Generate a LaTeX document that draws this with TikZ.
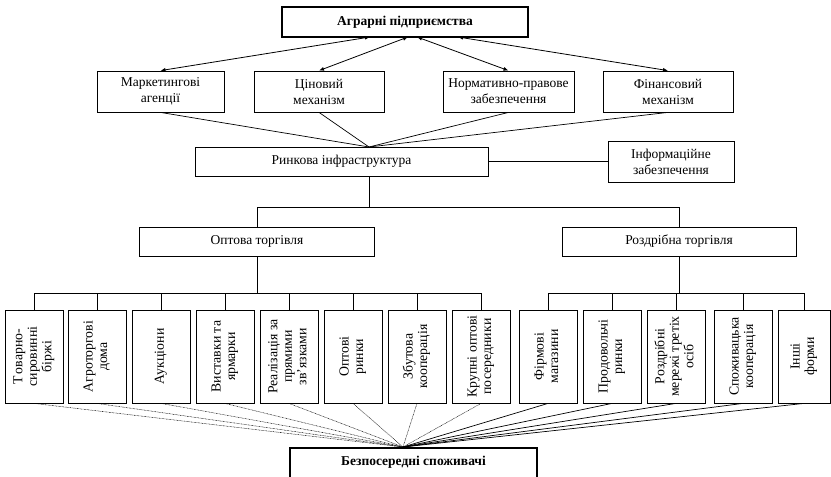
\documentclass[tikz,border=0pt]{standalone}
\usepackage{fontspec}
\setmainfont{Liberation Serif}
\usetikzlibrary{arrows.meta}
\newcommand\vtext[1]{\rotatebox{90}{\begin{tabular}{@{}c@{}}#1\end{tabular}}}
\begin{document}
\begin{tikzpicture}[x=1pt,y=-1pt,
 box/.style={draw, line width=0.8pt, inner sep=2pt, align=center, font=\fontsize{13.5}{16}\selectfont},
 bbox/.style={draw, line width=1.6pt, inner sep=2pt, align=center, font=\fontsize{13.5}{16}\selectfont\bfseries},
 vbox/.style={draw, line width=0.8pt, inner sep=0pt, minimum width=58pt, minimum height=93pt, font=\fontsize{13.8}{14.5}\selectfont},
 conn/.style={line width=0.7pt},
 dots/.style={line width=0.5pt, dash pattern=on 0.7pt off 0.7pt},
 arr/.style={line width=0.8pt, {Latex[length=5pt,width=4pt]}-{Latex[length=5pt,width=4pt]}}
]
\useasboundingbox (0,0) rectangle (831,477);
\clip (0,0) rectangle (831,477);

% top
\node[bbox, minimum width=246pt, minimum height=30pt] (agr) at (405,22) {Аграрні підприємства};
\coordinate (a1) at (370,37);
\coordinate (a2) at (408,37);
\coordinate (a3) at (417,37);
\coordinate (a4) at (458,37);

% row 2
\node[box, minimum width=127pt, minimum height=41pt] (mar) at (160.5,91.5) {Маркетингові\\агенції};
\node[box, minimum width=130pt, minimum height=41pt] (cin) at (319,91.5) {Ціновий\\механізм};
\node[box, minimum width=131pt, minimum height=41pt] (nor) at (508.5,91.5) {Нормативно-правове\\забезпечення};
\node[box, minimum width=130pt, minimum height=41pt] (fin) at (668,91.5) {Фінансовий\\механізм};

\draw[arr] (a1) -- (mar.north);
\draw[arr] (a2) -- (cin.north);
\draw[arr] (a3) -- (nor.north);
\draw[arr] (a4) -- (fin.north);

% market infrastructure
\node[box, minimum width=293pt, minimum height=29pt] (rin) at (341.5,161.5) {Ринкова інфраструктура};
\node[box, minimum width=126pt, minimum height=41pt] (inf) at (671,161.5) {Інформаційне\\забезпечення};
\coordinate (rt) at (369,147);
\coordinate (rb) at (369,176);
\coordinate (hub) at (369,208);
\foreach \n in {mar,cin,nor,fin} \draw[conn] (\n.south) -- (rt);
\draw[conn] (rin.east) -- (inf.west);

% wholesale / retail
\node[box, minimum width=235pt, minimum height=29pt] (opt) at (257,241.5) {Оптова торгівля};
\node[box, minimum width=234pt, minimum height=29pt] (roz) at (679,241.5) {Роздрібна торгівля};
\draw[conn] (rb) -- (hub);
\draw[conn] (opt.north) -- ++(0,-19) -| (roz.north);

% children
\node[vbox] (w1) at (34,356.5)  {\vtext{Т\kern1.5pt оварно-\\сировинні\\біржі}};
\node[vbox] (w2) at (97,356.5)  {\vtext{Агроторгові\\дома}};
\node[vbox] (w3) at (161,356.5) {\vtext{Аукціони}};
\node[vbox] (w4) at (225,356.5) {\vtext{Виставки та\\ярмарки}};
\node[vbox] (w5) at (289,356.5) {\vtext{Реалізація за\\прямими\\зв'язками}};
\node[vbox] (w6) at (353,356.5) {\vtext{Оптові\\ринки}};
\node[vbox] (w7) at (417,356.5) {\vtext{Збутова\\кооперація}};
\node[vbox] (w8) at (481,356.5) {\vtext{Крупні оптові\\посередники}};
\node[vbox] (r1) at (548,356.5) {\vtext{Фірмові\\магазини}};
\node[vbox] (r2) at (612,356.5) {\vtext{Продовольчі\\ринки}};
\node[vbox] (r3) at (676,356.5) {\vtext{Роздрібні\\мережі третіх\\осіб}};
\node[vbox] (r4) at (743,356.5) {\vtext{Споживацька\\кооперація}};
\node[vbox, minimum width=52pt] (r5) at (804,356.5) {\vtext{Інші\\форми}};

\draw[conn] (opt.south) -- ++(0,38);
\draw[conn] (roz.south) -- ++(0,38);
\draw[conn] (w1.north) -- ++(0,-16) -| (w8.north);
\foreach \n in {w2,w3,w4,w5,w6,w7} \draw[conn] (\n.north) -- ++(0,-16);
\draw[conn] (r1.north) -- ++(0,-16) -| (r5.north);
\foreach \n in {r2,r3,r4} \draw[conn] (\n.north) -- ++(0,-16);

% consumers
\node[bbox, minimum width=247pt, minimum height=46pt, anchor=north, inner ysep=5pt] (cons) at (413.5,447) {Безпосередні споживачі\\\strut};
\coordinate (cv) at (403,447);
\foreach \n in {w1,w2,w3,w4,w5,w6,w7,w8} \draw[dots] (\n.south) -- (cv);
\foreach \n in {r1,r2,r3,r4,r5} \draw[conn] (\n.south) -- (cv);
\end{tikzpicture}
\end{document}
